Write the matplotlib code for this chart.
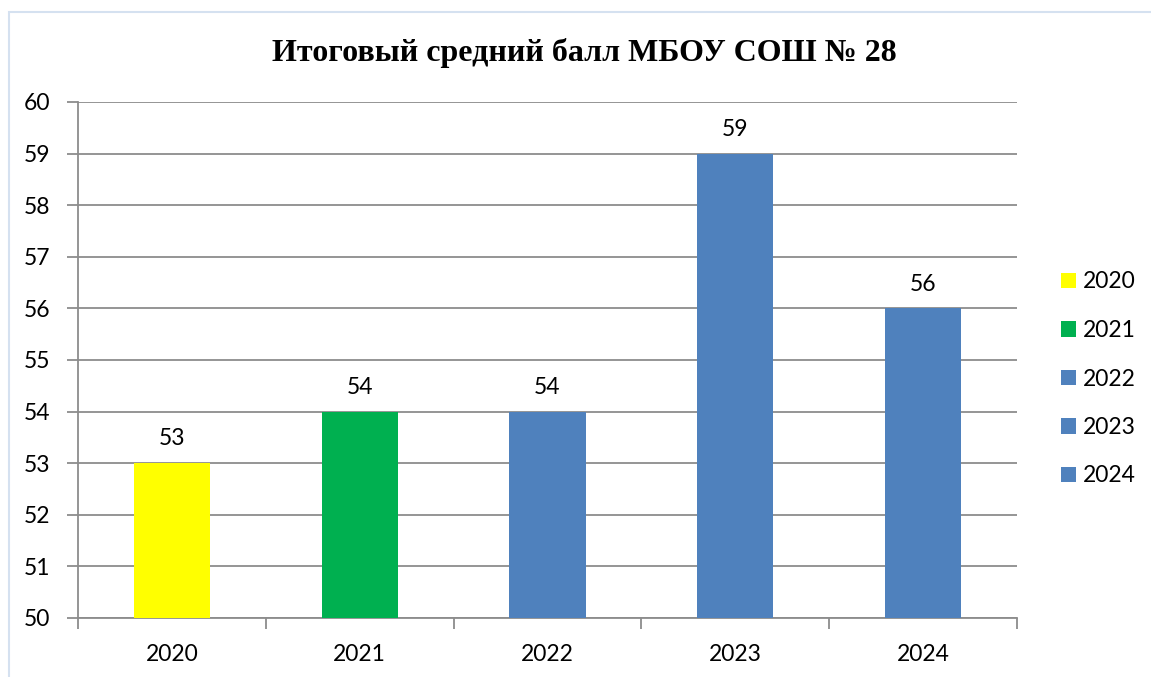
import matplotlib
matplotlib.use("Agg")
import matplotlib.pyplot as plt
from matplotlib.patches import Rectangle

years = ["2020", "2021", "2022", "2023", "2024"]
scores = [53, 54, 54, 59, 56]
colors = ["#FFFF00", "#00B050", "#4F81BD", "#4F81BD", "#4F81BD"]
title = "Итоговый средний балл МБОУ СОШ № 28"

W, H = 1151, 677
fig = plt.figure(figsize=(W / 100, H / 100), dpi=100)

# outer frame (light blue)
fig.patches.append(Rectangle((9 / W, -0.05), 1.2, 1 - 12 / H + 0.05,
                             transform=fig.transFigure, fill=False,
                             edgecolor="#D5E1F0", linewidth=1.5))

ax = fig.add_axes([78 / W, 1 - 618 / H, (1017 - 78) / W, (618 - 102) / H])
x = list(range(len(years)))
bars = ax.bar(x, scores, width=0.405, color=colors, zorder=3)

ax.set_ylim(50, 60)
ax.set_xlim(-0.5, len(years) - 0.5)
ax.set_yticks(range(50, 61))
ax.set_xticks(x)
ax.set_xticklabels(years)
ax.set_xticks([i - 0.5 for i in range(len(years) + 1)], minor=True)

for s in ["top", "right"]:
    ax.spines[s].set_visible(False)
for s in ["left", "bottom"]:
    ax.spines[s].set_color("#8C8C8C")
    ax.spines[s].set_linewidth(1.3)

ax.grid(axis="y", color="#8C8C8C", linewidth=1.3, zorder=0)
ax.tick_params(axis="y", direction="out", length=8, width=1.3, color="#8C8C8C",
               labelsize=16.5, pad=12)
ax.tick_params(axis="x", which="major", length=0, labelsize=16.5, pad=19)
ax.tick_params(axis="x", which="minor", direction="out", length=8, width=1.3,
               color="#8C8C8C")
for lab in ax.get_xticklabels() + ax.get_yticklabels():
    lab.set_fontfamily("Lato")

for xi, v in zip(x, scores):
    ax.annotate(str(v), (xi, v), xytext=(0, 10), textcoords="offset points",
                ha="center", va="bottom", fontsize=16.5, fontfamily="Lato")

fig.text(0.508, 1 - 53 / H, title, ha="center", va="center",
         fontsize=23, fontweight="bold", fontfamily="Liberation Serif")

fig.legend(bars, years, loc="center left", bbox_to_anchor=(1040 / W, 1 - 379 / H),
           frameon=False, prop={"family": "Lato", "size": 16.5},
           handlelength=0.65, handleheight=0.65, handletextpad=0.3,
           labelspacing=1.2)

fig.savefig("out.png", dpi=100)
